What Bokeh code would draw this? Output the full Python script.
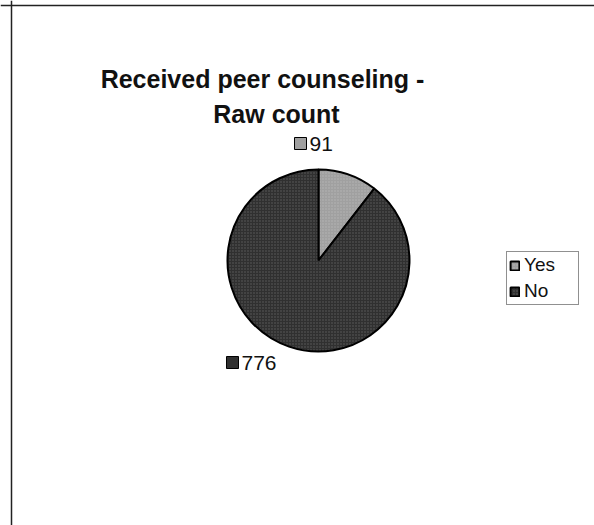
import math

from bokeh.embed import file_html
from bokeh.resources import INLINE
from bokeh.plotting import figure
from bokeh.models import ColumnDataSource, Label, Legend, LegendItem, Span
from bokeh.core.properties import value

# Survey answers and their counts
categories = ["Yes", "No"]
counts = [91, 776]
slice_colors = ["#a0a0a0", "#303030"]
title_lines = ["Received peer counseling -", "Raw count"]

W, H = 594, 525

# Wedges run clockwise from twelve o'clock
total = sum(counts)
starts, ends = [], []
acc = 0.0
for c in counts:
    a0 = math.pi / 2 - 2 * math.pi * acc / total
    acc += c
    a1 = math.pi / 2 - 2 * math.pi * acc / total
    starts.append(a1)
    ends.append(a0)

src = ColumnDataSource(dict(
    cat=categories, val=counts, start=starts, end=ends, color=slice_colors,
))

p = figure(width=W, height=H, x_range=(0, W), y_range=(0, H),
           min_border=0, toolbar_location=None, output_backend="svg")
p.axis.visible = False
p.grid.visible = False
p.outline_line_color = None
p.background_fill_color = "white"
p.border_fill_color = "white"

# Chart frame (top and left edges)
p.add_layout(Span(location=H - 5, dimension="width", line_color="#222222", line_width=1.5))
p.add_layout(Span(location=11, dimension="height", line_color="#222222", line_width=1.5))

cx, cy, r = 318, H - 260, 91
pie = p.wedge(x=cx, y=cy, radius=r, start_angle="start", end_angle="end",
              source=src, fill_color="color", line_color="black", line_width=2,
              hatch_pattern=".", hatch_color="white", hatch_alpha=0.22, hatch_scale=3)

# Title (the first line keeps its trailing space when centred)
title_x = [262, 276]
title_base = [78, 113]
for line, tx, tb in zip(title_lines, title_x, title_base):
    p.add_layout(Label(x=tx, y=H - tb, text=line, text_align="center",
                       text_baseline="alphabetic", text_font="Liberation Sans",
                       text_font_style="bold", text_font_size="25px",
                       text_color="#111111"))

# Data labels with small colour keys
label_pos = [(300, H - 143), (232, H - 362)]
for (lx, ly), v, col in zip(label_pos, counts, slice_colors):
    p.scatter(x=[lx], y=[ly], marker="square", size=12, fill_color=col,
              line_color="black", line_width=1)
    p.text(x=[lx + 9], y=[ly], text=[str(v)], text_baseline="middle",
           text_align="left", text_font=value("Liberation Sans"),
           text_font_size="21px", text_color="#111111")

legend = Legend(
    items=[LegendItem(label=c, renderers=[pie], index=i) for i, c in enumerate(categories)],
    location=(506, H - 305), orientation="vertical",
    label_text_font="Liberation Sans", label_text_font_size="19px",
    label_text_color="#111111", glyph_width=11, glyph_height=11,
    label_standoff=4, label_height=20, label_width=52, spacing=4, padding=2, margin=0,
    border_line_color="#222222", border_line_width=1,
    background_fill_color="white", background_fill_alpha=1.0,
)
p.add_layout(legend, "center")

open("out.html", "w").write(file_html(p, INLINE))
